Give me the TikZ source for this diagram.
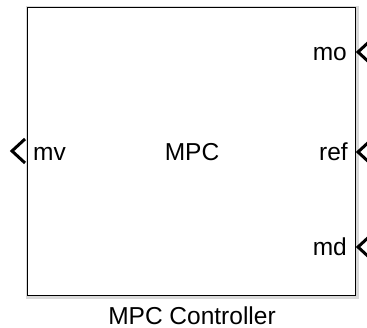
\documentclass[tikz,border=0pt]{standalone}
\usepackage{fontspec}
\setmainfont{Liberation Sans}
\usetikzlibrary{calc}
\begin{document}
\begin{tikzpicture}[x=1pt,y=-1pt,
  portlbl/.style={font=\fontsize{24.5}{24.5}\selectfont, inner sep=0pt},
  chev/.style={line width=3pt, line join=miter, line cap=butt},
  blockbox/.style={draw=black, line width=1.4pt}]
\useasboundingbox (0,0) rectangle (367,328);
\clip (0,0) rectangle (367,328);
% soft shadow around the block
\draw[gray!60, line width=3pt] (28,8) rectangle (356,296);
\draw[gray!30, line width=5pt] (28.5,8.5) rectangle (356.5,296.5);
\node[blockbox, fill=white, minimum width=328pt, minimum height=288pt, inner sep=0pt, anchor=north west] (blk) at (27,7) {};
% block name and caption
\node[portlbl, anchor=base] (title) at (192,161) {MPC};
\node[portlbl, anchor=base, text depth=0pt] (cap) at (192,324.5) {MPC Controller};
% port labels
\node[portlbl, anchor=base west] (mv) at (33,161) {mv};
\node[portlbl, anchor=base east] (mo) at (347,61) {mo};
\node[portlbl, anchor=base east] (ref) at (348,161) {ref};
\node[portlbl, anchor=base east] (md) at (347,256) {md};
% port chevrons
\coordinate (pl) at (12,151);
\draw[chev] ($(pl)+(13,-12)$) -- (pl) -- ($(pl)+(13,12)$);
\foreach \yy/\nm in {52/pmo,152/pref,247/pmd}{
  \coordinate (\nm) at (358,\yy);
  \draw[chev] ($(\nm)+(13,-12)$) -- (\nm) -- ($(\nm)+(13,12)$);
}
\end{tikzpicture}
\end{document}
